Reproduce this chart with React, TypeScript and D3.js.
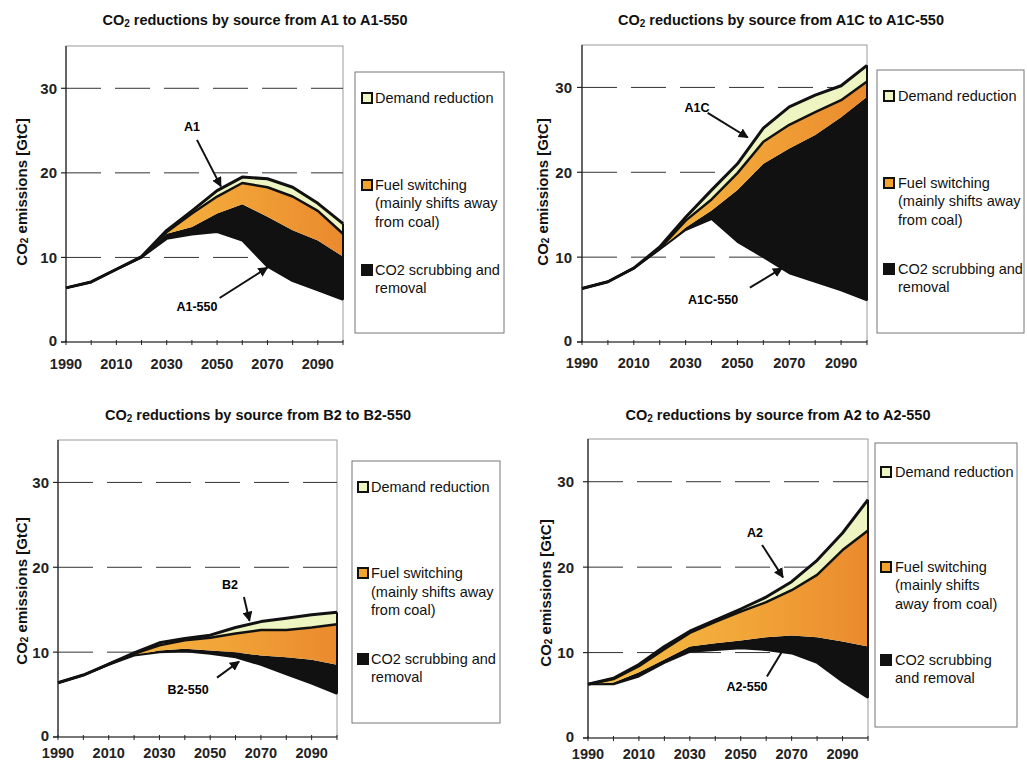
import React from "react";
import * as d3 from "d3";

const years = [1990, 2000, 2010, 2020, 2030, 2040, 2050, 2060, 2070, 2080, 2090, 2100];
const yTicks = [0, 10, 20, 30];
const xTickLabels = [1990, 2010, 2030, 2050, 2070, 2090];
const gridValues = [10, 20, 30];

// A1 panel
const a1Baseline = [6.4, 7.1, 8.6, 10.1, 13.2, 15.5, 17.9, 19.5, 19.3, 18.3, 16.4, 14.0];
const a1AfterDemand = [6.4, 7.1, 8.6, 10.0, 13.0, 15.2, 17.2, 18.8, 18.3, 17.2, 15.5, 12.8];
const a1AfterFuel = [6.4, 7.1, 8.6, 10.0, 12.8, 13.6, 15.2, 16.3, 14.8, 13.2, 12.0, 10.1];
const a1Stab550 = [6.4, 7.1, 8.6, 10.0, 12.2, 12.7, 13.0, 12.0, 8.9, 7.2, 6.1, 5.0];

// A1C panel
const a1cBaseline = [6.3, 7.1, 8.7, 11.2, 14.7, 17.9, 21.0, 25.2, 27.7, 29.1, 30.2, 32.6];
const a1cAfterDemand = [6.3, 7.1, 8.7, 11.0, 14.3, 16.8, 19.9, 23.6, 25.6, 27.1, 28.5, 30.7];
const a1cAfterFuel = [6.3, 7.1, 8.7, 10.9, 13.5, 15.5, 17.9, 21.0, 22.8, 24.4, 26.5, 28.9];
const a1cStab550 = [6.3, 7.1, 8.7, 10.9, 13.2, 14.5, 11.8, 10.0, 8.1, 7.1, 6.1, 4.9];

// B2 panel
const b2Baseline = [6.4, 7.3, 8.6, 9.9, 11.1, 11.6, 12.0, 12.9, 13.6, 14.0, 14.4, 14.7];
const b2AfterDemand = [6.4, 7.3, 8.6, 9.8, 10.8, 11.4, 11.7, 12.2, 12.6, 12.6, 12.9, 13.3];
const b2AfterFuel = [6.4, 7.3, 8.5, 9.6, 10.2, 10.4, 10.2, 10.0, 9.6, 9.4, 9.1, 8.5];
const b2Stab550 = [6.4, 7.3, 8.5, 9.6, 10.0, 10.1, 9.8, 9.4, 8.5, 7.4, 6.3, 5.1];

// A2 panel
const a2Baseline = [6.3, 7.0, 8.6, 10.7, 12.5, 13.8, 15.1, 16.5, 18.3, 20.8, 24.0, 27.9];
const a2AfterDemand = [6.3, 6.9, 8.4, 10.4, 12.3, 13.6, 14.8, 15.9, 17.3, 19.1, 22.0, 24.3];
const a2AfterFuel = [6.3, 6.5, 7.7, 9.2, 10.7, 11.1, 11.4, 11.8, 12.0, 11.8, 11.3, 10.7];
const a2Stab550 = [6.3, 6.3, 7.2, 8.8, 10.1, 10.3, 10.5, 10.3, 9.9, 8.8, 6.6, 4.7];

const legendItems = ["Demand reduction", "Fuel switching", "CO2 scrubbing and removal"];

const COL_DEMAND = "#eef4c2";
const COL_BLACK = "#111111";

type Ann = { text: string; lx: number; ly: number; ax0: number; ay0: number; ax1: number; ay1: number };

const panels = [
  {
    id: "p1",
    title: "A1 to A1-550",
    base: a1Baseline, dem: a1AfterDemand, fuel: a1AfterFuel, stab: a1Stab550,
    x0: 66, x1: 343, yBottom: 342, yTop: 46, titleX: 255, titleY: 20,
    yLabelX: 21, yLabelY: 192, xLabOff: 22, yTickGap: 9,
    legend: { x: 355, y: 72, w: 149, h: 261, sqX: 361, txtX: 375,
      lines: [[98], [185, 203, 222], [270, 288]],
      texts: [["Demand reduction"], ["Fuel switching", "(mainly shifts away", "from coal)"], ["CO2 scrubbing and", "removal"]] },
    ann: [
      { text: "A1", lx: 2040, ly: 25.4, ax0: 2042, ay0: 23.9, ax1: 2051.5, ay1: 18.4 },
      { text: "A1-550", lx: 2042, ly: 4.1, ax0: 2051, ay0: 5.2, ax1: 2070, ay1: 8.8 },
    ] as Ann[],
  },
  {
    id: "p2",
    title: "A1C to A1C-550",
    base: a1cBaseline, dem: a1cAfterDemand, fuel: a1cAfterFuel, stab: a1cStab550,
    x0: 582, x1: 867, yBottom: 342, yTop: 45, titleX: 781, titleY: 20,
    yLabelX: 542, yLabelY: 192, xLabOff: 21, yTickGap: 10,
    legend: { x: 877, y: 70, w: 147, h: 263, sqX: 883, txtX: 898,
      lines: [[96], [183, 201, 220], [269, 287]],
      texts: [["Demand reduction"], ["Fuel switching", "(mainly shifts away", "from coal)"], ["CO2 scrubbing and", "removal"]] },
    ann: [
      { text: "A1C", lx: 2034.4, ly: 27.6, ax0: 2038.5, ay0: 27.0, ax1: 2054, ay1: 24.1 },
      { text: "A1C-550", lx: 2040.6, ly: 4.9, ax0: 2054.8, ay0: 6.4, ax1: 2067.2, ay1: 8.7 },
    ] as Ann[],
  },
  {
    id: "p3",
    title: "B2 to B2-550",
    base: b2Baseline, dem: b2AfterDemand, fuel: b2AfterFuel, stab: b2Stab550,
    x0: 58, x1: 337, yBottom: 737, yTop: 440, titleX: 258, titleY: 415,
    yLabelX: 21, yLabelY: 591, xLabOff: 16, yTickGap: 9,
    legend: { x: 352, y: 461, w: 148, h: 262, sqX: 357, txtX: 371,
      lines: [[487], [573, 592, 610], [659, 677]],
      texts: [["Demand reduction"], ["Fuel switching", "(mainly shifts away", "from coal)"], ["CO2 scrubbing and", "removal"]] },
    ann: [
      { text: "B2", lx: 2057.8, ly: 17.9, ax0: 2063.3, ay0: 16.5, ax1: 2065.5, ay1: 13.7 },
      { text: "B2-550", lx: 2041.3, ly: 5.5, ax0: 2052.7, ay0: 7.0, ax1: 2061.4, ay1: 8.9 },
    ] as Ann[],
  },
  {
    id: "p4",
    title: "A2 to A2-550",
    base: a2Baseline, dem: a2AfterDemand, fuel: a2AfterFuel, stab: a2Stab550,
    x0: 588, x1: 868, yBottom: 738, yTop: 439, titleX: 778, titleY: 415,
    yLabelX: 545, yLabelY: 593, xLabOff: 16, yTickGap: 14,
    legend: { x: 875, y: 443, w: 142, h: 284, sqX: 880, txtX: 895,
      lines: [[472], [567, 585, 604], [660, 678]],
      texts: [["Demand reduction"], ["Fuel switching", "(mainly shifts", "away from coal)"], ["CO2 scrubbing", "and removal"]] },
    ann: [
      { text: "A2", lx: 2055.6, ly: 24.0, ax0: 2058.4, ay0: 22.6, ax1: 2066.6, ay1: 18.8 },
      { text: "A2-550", lx: 2052.5, ly: 6.0, ax0: 2060.3, ay0: 7.2, ax1: 2068.2, ay1: 11.1 },
    ] as Ann[],
  },
];

const FONT = "'Liberation Sans', Arial, Helvetica, sans-serif";

function Panel({ p }: { p: (typeof panels)[number] }) {
  const x = d3.scaleLinear().domain([1990, 2100]).range([p.x0, p.x1]);
  const y = d3.scaleLinear().domain([0, 35]).range([p.yBottom, p.yTop]);
  const idx = d3.range(years.length);

  const band = (lo: number[], hi: number[]) =>
    d3.area<number>().x((i) => x(years[i])).y0((i) => y(lo[i])).y1((i) => y(hi[i]))(idx) || "";
  const line = (v: number[]) => d3.line<number>().x((i) => x(years[i])).y((i) => y(v[i]))(idx) || "";

  const gradId = `orange-${p.id}`;
  const markerId = `arrow-${p.id}`;
  const sqColors = [COL_DEMAND, "#f2a32e", COL_BLACK];

  return (
    <g>
      <defs>
        <linearGradient id={gradId} x1="0" x2="1" y1="0" y2="0">
          <stop offset="0%" stopColor="#f7c246" />
          <stop offset="60%" stopColor="#f1a337" />
          <stop offset="100%" stopColor="#ea8a2e" />
        </linearGradient>
        <marker id={markerId} viewBox="0 0 10 10" refX="9" refY="5" markerWidth="5" markerHeight="5" orient="auto">
          <path d="M0,0 L10,5 L0,10 z" fill="#111" />
        </marker>
      </defs>
      {/* title */}
      <text x={p.titleX} y={p.titleY} textAnchor="middle" dominantBaseline="central" fontFamily={FONT} fontWeight="bold" fontSize={14.5} fill="#111">
        CO<tspan fontSize={10} dy={3}>2</tspan>
        <tspan dy={-3}> reductions by source from {p.title}</tspan>
      </text>
      {/* plot frame */}
      <rect x={p.x0} y={p.yTop} width={p.x1 - p.x0} height={p.yBottom - p.yTop} fill="white" stroke="#9a9a9a" strokeWidth={1} />
      {/* gridlines */}
      {gridValues.map((g) => (
        <line key={g} x1={p.x0} x2={p.x1} y1={y(g)} y2={y(g)} stroke="#333" strokeWidth={1} strokeDasharray="35,14" />
      ))}
      {/* areas */}
      <path d={band(p.stab, p.fuel)} fill={COL_BLACK} />
      <path d={band(p.fuel, p.dem)} fill={`url(#${gradId})`} />
      <path d={band(p.dem, p.base)} fill={COL_DEMAND} />
      <line x1={x(2100)} x2={x(2100)} y1={y(p.stab[11])} y2={y(p.base[11])} stroke="#111" strokeWidth={2} />
      <path d={line(p.stab)} fill="none" stroke="#111" strokeWidth={2} strokeLinejoin="round" />
      <path d={line(p.dem)} fill="none" stroke="#111" strokeWidth={2.5} strokeLinejoin="round" />
      <path d={line(p.base)} fill="none" stroke="#111" strokeWidth={3} strokeLinejoin="round" />
      {/* axes */}
      <line x1={p.x0} x2={p.x0} y1={p.yTop} y2={p.yBottom} stroke="#222" strokeWidth={1.2} />
      <line x1={p.x0 - 5} x2={p.x1} y1={p.yBottom} y2={p.yBottom} stroke="#222" strokeWidth={1.2} />
      {yTicks.map((t) => (
        <g key={t}>
          <line x1={p.x0 - 5} x2={p.x0} y1={y(t)} y2={y(t)} stroke="#222" strokeWidth={1.2} />
          <text x={p.x0 - p.yTickGap} y={y(t) - (t === 0 ? 2 : 0)} textAnchor="end" dominantBaseline="central" fontFamily={FONT} fontWeight="bold" fontSize={15} fill="#222">
            {t}
          </text>
        </g>
      ))}
      {years.map((yr) => (
        <line key={yr} x1={x(yr)} x2={x(yr)} y1={p.yBottom - 2} y2={p.yBottom + 3} stroke="#222" strokeWidth={1} />
      ))}
      {xTickLabels.map((yr) => (
        <text key={yr} x={x(yr)} y={p.yBottom + p.xLabOff} textAnchor="middle" dominantBaseline="central" fontFamily={FONT} fontWeight="bold" fontSize={14.5} fill="#222">
          {yr}
        </text>
      ))}
      {/* y label */}
      <text transform={`translate(${p.yLabelX},${p.yLabelY}) rotate(-90)`} textAnchor="middle" dominantBaseline="central" fontFamily={FONT} fontWeight="bold" fontSize={15} fill="#111">
        CO<tspan fontSize={10} dy={3}>2</tspan>
        <tspan dy={-3}> emissions [GtC]</tspan>
      </text>
      {/* annotations */}
      {p.ann.map((a) => (
        <g key={a.text}>
          <text x={x(a.lx)} y={y(a.ly)} textAnchor="middle" dominantBaseline="central" fontFamily={FONT} fontWeight="bold" fontSize={12.5}>
            {a.text}
          </text>
          <line x1={x(a.ax0)} y1={y(a.ay0)} x2={x(a.ax1)} y2={y(a.ay1)} stroke="#111" strokeWidth={2} markerEnd={`url(#${markerId})`} />
        </g>
      ))}
      {/* legend */}
      <rect x={p.legend.x} y={p.legend.y} width={p.legend.w} height={p.legend.h} fill="white" stroke="#777" strokeWidth={1} />
      {legendItems.map((name, i) => (
        <g key={name}>
          <rect x={p.legend.sqX + 1} y={p.legend.lines[i][0] - 5} width={10} height={10} fill={sqColors[i]} stroke="#111" strokeWidth={2} />
          {p.legend.texts[i].map((t, j) => (
            <text key={j} x={p.legend.txtX} y={p.legend.lines[i][j]} dominantBaseline="central" fontFamily={FONT} fontSize={14.5} fill="#111">
              {t}
            </text>
          ))}
        </g>
      ))}
    </g>
  );
}

export default function App() {
  return (
    <svg width={1027} height={763} style={{ position: "absolute", left: 0, top: 0, background: "white" }}>
      <rect x={0} y={0} width={1027} height={763} fill="white" />
      {panels.map((p) => (
        <Panel key={p.id} p={p} />
      ))}
    </svg>
  );
}
